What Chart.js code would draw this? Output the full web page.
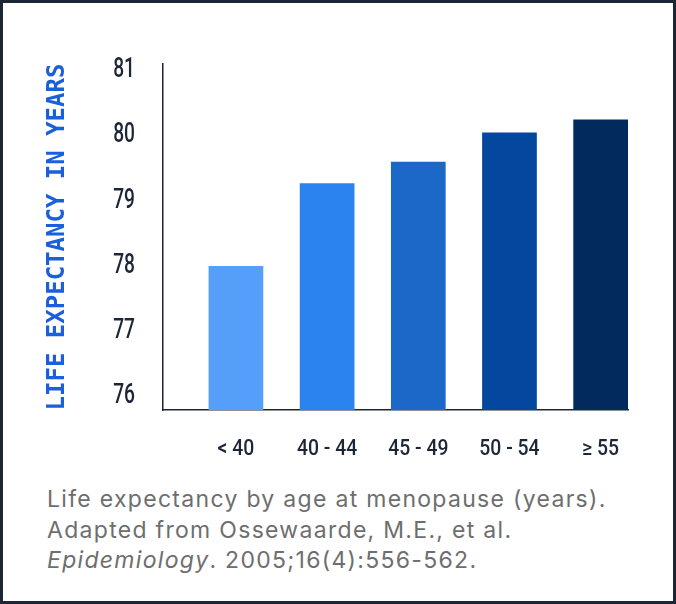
<!DOCTYPE html>
<html>
<head>
<meta charset="utf-8">
<script src="https://cdn.jsdelivr.net/npm/chart.js@4"></script>
<style>
  html, body { margin: 0; padding: 0; background: #fff; }
  .card { position: relative; width: 676px; height: 604px; overflow: hidden; }
  .frame { position: absolute; left: 0; top: 0; width: 676px; height: 604px; box-sizing: border-box;
           border: 3px solid #1c2637; pointer-events: none; }
  .plot { position: absolute; left: 0; top: 0; width: 676px; height: 480px; }
  .caption { position: absolute; left: 47px; top: 484px; font-family: Inter, "Open Sans", sans-serif;
             font-size: 23px; letter-spacing: 1.3px; line-height: 30.5px; color: #6e6e6e; white-space: nowrap; }
</style>
</head>
<body>
<div class="card">
  <div class="plot"><canvas id="chart"></canvas></div>
  <div class="caption">
    Life expectancy by age at menopause (years).<br>
    Adapted from Ossewaarde, M.E., et al.<br>
    <i>Epidemiology</i>. 2005;16(4):556-562.
  </div>
  <div class="frame"></div>
</div>
<script>
// age at menopause groups and life expectancy
const ageGroups = ["< 40", "40 - 44", "45 - 49", "50 - 54", "\u2265 55"];
const lifeExpectancy = [78.0, 79.27, 79.6, 80.05, 80.25];
const barColors = ["#559ffa", "#2a83ef", "#1c68c9", "#03479e", "#022a5d"];
const yTicks = [76, 77, 78, 79, 80, 81];

const ink = "#1c2637";

// no condensed face is installed, so tick labels are squeezed horizontally by hand
function squeezed(ctx, text, x, y, align, sx) {
  ctx.save();
  ctx.translate(x, y);
  ctx.scale(sx, 1);
  ctx.textAlign = align;
  ctx.fillText(text, 0, 0);
  ctx.restore();
}

const narrowTicks = {
  id: "narrowTicks",
  afterDraw(chart) {
    const { ctx, scales: { x, y } } = chart;
    ctx.save();
    ctx.fillStyle = ink;
    ctx.textBaseline = "middle";
    ctx.font = "500 27px Roboto, sans-serif";
    y.ticks.forEach((t) => {
      squeezed(ctx, String(t.value), y.right - 28, y.getPixelForValue(t.value), "right", 0.71);
    });
    ctx.font = "500 22px Roboto, sans-serif";
    x.ticks.forEach((t) => {
      squeezed(ctx, ageGroups[t.value], x.getPixelForValue(t.value), x.top + 39, "center", 0.88);
    });
    ctx.restore();
  }
};

new Chart(document.getElementById("chart"), {
  type: "bar",
  data: {
    datasets: [{
      data: lifeExpectancy.map((v, i) => ({ x: i, y: v })),
      backgroundColor: barColors,
      borderWidth: 0,
      categoryPercentage: 1,
      barPercentage: 0.6
    }]
  },
  options: {
    responsive: true,
    maintainAspectRatio: false,
    animation: false,
    layout: { padding: { left: 0, top: 64, right: 48, bottom: 0 } },
    plugins: { legend: { display: false }, tooltip: { enabled: false } },
    scales: {
      x: {
        type: "linear",
        offset: false,
        min: -0.8,
        max: 4.3,
        grid: { display: false, offset: false },
        border: { display: true, color: ink, width: 1.5 },
        afterBuildTicks: (s) => { s.ticks = ageGroups.map((_, i) => ({ value: i })); },
        afterFit: (s) => { s.height = 70; },
        ticks: { autoSkip: false, maxRotation: 0, color: "transparent", callback: (v) => ageGroups[v] }
      },
      y: {
        min: 75.79,
        max: 81.1,
        grid: { display: false },
        border: { display: true, color: ink, width: 1.5 },
        afterBuildTicks: (s) => { s.ticks = yTicks.map((v) => ({ value: v })); },
        afterFit: (s) => { s.width = 163; },
        ticks: { color: "transparent" },
        title: {
          display: true,
          text: "LIFE EXPECTANCY IN YEARS",
          color: "#1b60da",
          font: { family: "'DejaVu Sans Mono', monospace", size: 24, weight: "bold" },
          padding: { top: 43, bottom: 0 }
        }
      }
    }
  },
  plugins: [narrowTicks]
});
</script>
</body>
</html>
